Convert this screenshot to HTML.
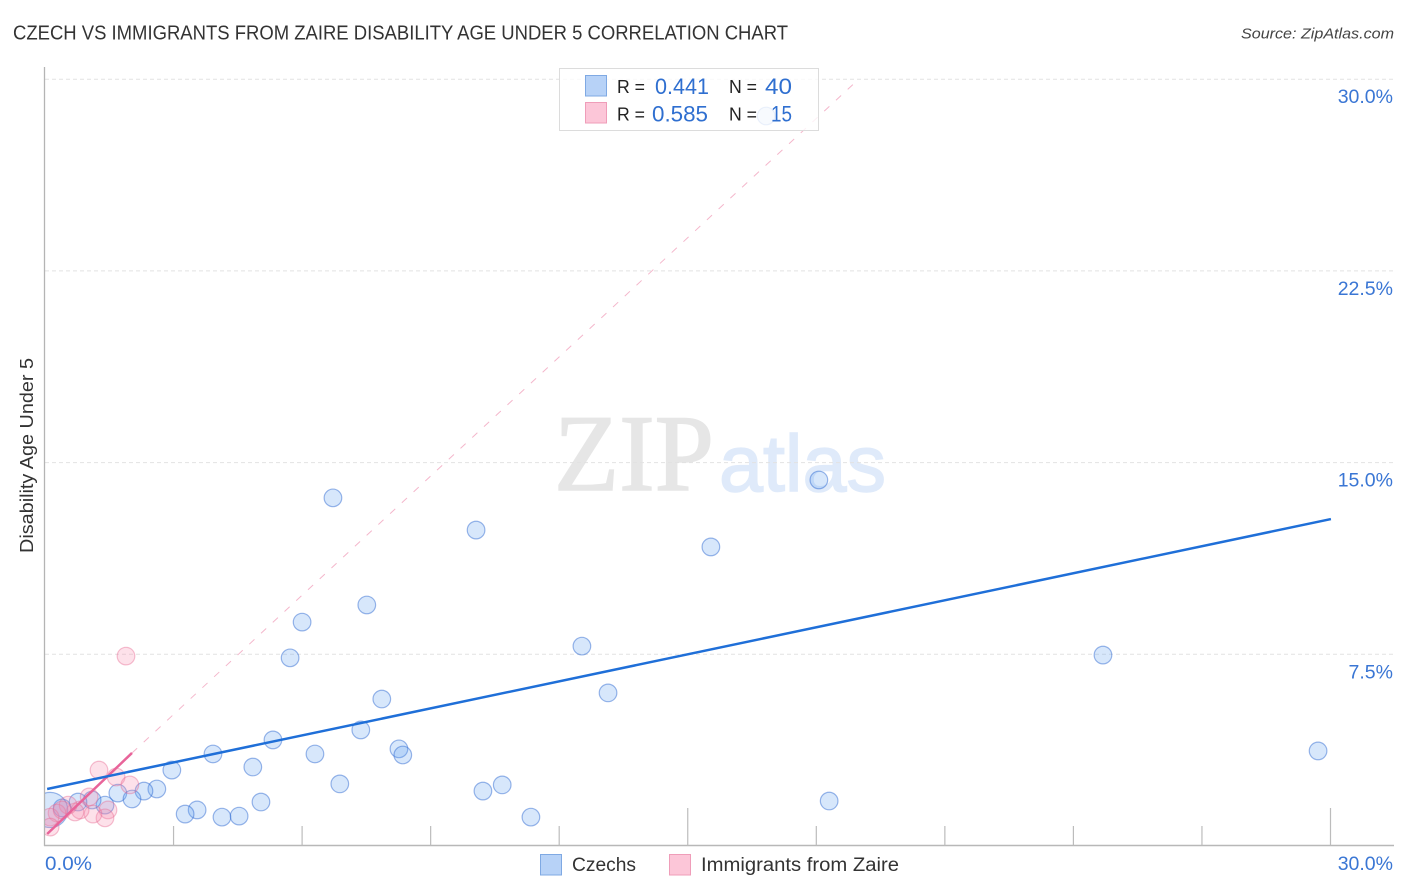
<!DOCTYPE html>
<html lang="en">
<head>
<meta charset="utf-8">
<title>Czech vs Immigrants from Zaire Disability Age Under 5 Correlation Chart</title>
<style>
html,body{margin:0;padding:0;background:#fff;width:1406px;height:892px;overflow:hidden}
svg{display:block}
text{font-family:"Liberation Sans",sans-serif}
</style>
</head>
<body>
<svg id="chart" xmlns="http://www.w3.org/2000/svg" width="1406" height="892" viewBox="0 0 1406 892">
  <rect x="0" y="0" width="1406" height="892" fill="#fff"/>
  <defs>
    <clipPath id="plot-clip"><rect x="45" y="60" width="1350" height="785"/></clipPath>
  </defs>
  <text x="13" y="39.500" font-size="20" fill="#333" textLength="775" lengthAdjust="spacingAndGlyphs">CZECH VS IMMIGRANTS FROM ZAIRE DISABILITY AGE UNDER 5 CORRELATION CHART</text>
  <text x="1241" y="38.500" font-size="15" font-style="italic" fill="#444" textLength="153" lengthAdjust="spacingAndGlyphs">Source: ZipAtlas.com</text>
  <g>
    <text x="554" y="490" style="font-family:'Liberation Serif',serif" font-size="109" fill="#e6e6e6" stroke="#e6e6e6" stroke-width="1.5" textLength="160" lengthAdjust="spacingAndGlyphs">ZIP</text>
    <text x="719" y="491" font-size="80" fill="#dfeafa" stroke="#dfeafa" stroke-width="1.5" textLength="167" lengthAdjust="spacingAndGlyphs">atlas</text>
  </g>
  <g id="grid"></g>
  <g id="axes"></g>
  <g id="marks" clip-path="url(#plot-clip)"></g>
  <g id="trends"></g>
  <g>
    <rect x="559.500" y="68.500" width="259" height="62" fill="#fff" fill-opacity="0.8" stroke="#dcdcdc" stroke-width="1"/>
    <rect x="585.500" y="75.500" width="21" height="20.500" fill="#b7d2f7" stroke="#7fa9e3"/>
    <rect x="585.500" y="102.500" width="21" height="20.500" fill="#fcc6d8" stroke="#ef9db9"/>
    <text x="617" y="93" font-size="18" fill="#222" textLength="28" lengthAdjust="spacingAndGlyphs">R =</text>
    <text x="655" y="94" font-size="22" fill="#2f6fd0" textLength="54" lengthAdjust="spacingAndGlyphs">0.441</text>
    <text x="729" y="93" font-size="18" fill="#222" textLength="28" lengthAdjust="spacingAndGlyphs">N =</text>
    <text x="765" y="94" font-size="22" fill="#2f6fd0" textLength="27" lengthAdjust="spacingAndGlyphs">40</text>
    <text x="617" y="120.500" font-size="18" fill="#222" textLength="28" lengthAdjust="spacingAndGlyphs">R =</text>
    <text x="652" y="121.500" font-size="22" fill="#2f6fd0" textLength="56" lengthAdjust="spacingAndGlyphs">0.585</text>
    <text x="729" y="120.500" font-size="18" fill="#222" textLength="28" lengthAdjust="spacingAndGlyphs">N =</text>
    <text x="771" y="121.500" font-size="22" fill="#2f6fd0" textLength="21" lengthAdjust="spacingAndGlyphs">15</text>
  </g>
  <text transform="translate(33,455.500) rotate(-90)" font-size="18" fill="#333" text-anchor="middle" textLength="195" lengthAdjust="spacingAndGlyphs">Disability Age Under 5</text>
  <g id="ytick-labels"></g>
  <text x="45" y="870" font-size="19.500" fill="#3a76d4" textLength="47" lengthAdjust="spacingAndGlyphs">0.0%</text>
  <text x="1393" y="870" font-size="19.500" fill="#3a76d4" text-anchor="end">30.0%</text>
  <g>
    <g>
      <rect x="540.500" y="854.500" width="21" height="20.500" fill="#b7d2f7" stroke="#7fa9e3"/>
      <text x="572" y="871" font-size="19" fill="#333" textLength="64" lengthAdjust="spacingAndGlyphs">Czechs</text>
    </g>
    <g>
      <rect x="669.500" y="854.500" width="21" height="20.500" fill="#fcc6d8" stroke="#ef9db9"/>
      <text x="701" y="871" font-size="19" fill="#333" textLength="198" lengthAdjust="spacingAndGlyphs">Immigrants from Zaire</text>
    </g>
  </g>
</svg>
<script>
const czechX = [16.83,18.06,6.72,10.06,15.54,7.51,6.00,5.72,12.53,24.69,13.14,7.86,7.37,5.32,3.92,6.30,8.26,8.35,29.71,2.96,4.85,6.88,10.67,10.22,2.61,2.31,1.70,2.03,1.40,5.04,18.30,3.55,3.27,4.13,4.53,11.34,1.10,0.77,0.40,0.12];
const czechY = [28.56,14.32,13.62,12.36,11.70,9.43,8.76,7.36,7.82,7.47,5.99,5.75,4.54,4.15,3.60,3.60,3.80,3.56,3.72,2.97,3.09,2.43,2.39,2.15,2.23,2.15,2.07,1.84,1.60,1.72,1.76,1.41,1.25,1.13,1.17,1.13,1.80,1.72,1.49,1.41];
const czechWeight = [1,1,1,1,1,1,1,1,1,1,1,1,1,1,1,1,1,1,1,1,1,1,1,1,1,1,1,1,1,1,1,1,1,1,1,1,1,1,1,4];
const zaireX = [1.89,1.26,1.66,1.98,1.47,1.40,1.12,1.03,0.82,0.70,0.54,0.28,0.12,0.12,0.40];
const zaireY = [7.43,2.97,2.70,2.39,1.41,1.10,1.25,1.92,1.41,1.33,1.60,1.29,1.13,0.74,1.41];
const zaireWeight = [1,1,1,1,1,1,1,1,1,1,1,1,1,1,1];
const czechTrendX = [0.05,30.01];
const czechTrendY = [2.23,12.79];
const zaireTrendX = [0.05,2.03];
const zaireTrendY = [0.47,3.64];
const zaireExtX = [2.03,18.97];
const zaireExtY = [3.64,29.97];
const yTicks = [7.5,15,22.5,30];
const yTickLabels = ["7.5%","15.0%","22.5%","30.0%"];
const xTicks = [0,3,6,9,12,15,18,21,24,27,30];
const xMajorTicks = [15,30];

const NS = "http://www.w3.org/2000/svg";
function sx(v){ return 45 + v * 42.85; }
function sy(v){ return 846 - v * 25.56; }
function sr(w){ return 8.8 * Math.sqrt(w); }
function make(tag, attrs, parent){
  const el = document.createElementNS(NS, tag);
  for (const k in attrs) el.setAttribute(k, attrs[k]);
  parent.appendChild(el);
  return el;
}
const grid = document.getElementById('grid');
const axes = document.getElementById('axes');
const marks = document.getElementById('marks');
const trends = document.getElementById('trends');
const ylabels = document.getElementById('ytick-labels');

yTicks.forEach(function(t, i){
  const line = make('line', {x1:45, x2:1394, y1:sy(t), y2:sy(t), stroke:'#e2e2e2', 'stroke-width':1, 'stroke-dasharray':'4 3'}, grid);
  
  
  const label = make('text', {x:1393, y:sy(t) + 24, 'font-size':19.5, fill:'#3a76d4', 'text-anchor':'end'}, ylabels);
  label.textContent = yTickLabels[i];
  
  
});

const yAxis = make('line', {x1:44.5, x2:44.5, y1:67, y2:846, stroke:'#b4b4b4', 'stroke-width':1.3}, axes);


const xAxis = make('line', {x1:44, x2:1394, y1:845.5, y2:845.5, stroke:'#b8b8b8', 'stroke-width':1.4}, axes);


xTicks.forEach(function(t){
  if (t === 0) return;
  const top = xMajorTicks.indexOf(t) >= 0 ? 808 : 826;
  const tick = make('line', {x1:sx(t), x2:sx(t), y1:top, y2:845.5, stroke:'#bcbcbc', 'stroke-width':1.2}, axes);
  
  
});

czechX.forEach(function(v, i){
  const c = make('circle', {cx:sx(v), cy:sy(czechY[i]), r:sr(czechWeight[i]), fill:'rgba(96,158,240,0.25)', stroke:'rgba(45,105,210,0.48)', 'stroke-width':1.2}, marks);
  
  
});
zaireX.forEach(function(v, i){
  const c = make('circle', {cx:sx(v), cy:sy(zaireY[i]), r:sr(zaireWeight[i]), fill:'rgba(246,140,172,0.26)', stroke:'rgba(232,105,145,0.42)', 'stroke-width':1.2}, marks);
  
  
});

const ext = make('line', {x1:sx(zaireExtX[0]), y1:sy(zaireExtY[0]), x2:sx(zaireExtX[1]), y2:sy(zaireExtY[1]), stroke:'#f4b6cb', 'stroke-width':1, 'stroke-dasharray':'7 9'}, trends);


const zt = make('line', {x1:sx(zaireTrendX[0]), y1:sy(zaireTrendY[0]), x2:sx(zaireTrendX[1]), y2:sy(zaireTrendY[1]), stroke:'#e8649a', 'stroke-width':2.5}, trends);


const ct = make('line', {x1:sx(czechTrendX[0]), y1:sy(czechTrendY[0]), x2:sx(czechTrendX[1]), y2:sy(czechTrendY[1]), stroke:'#1f6fd8', 'stroke-width':2.5}, trends);


</script>
</body>
</html>
